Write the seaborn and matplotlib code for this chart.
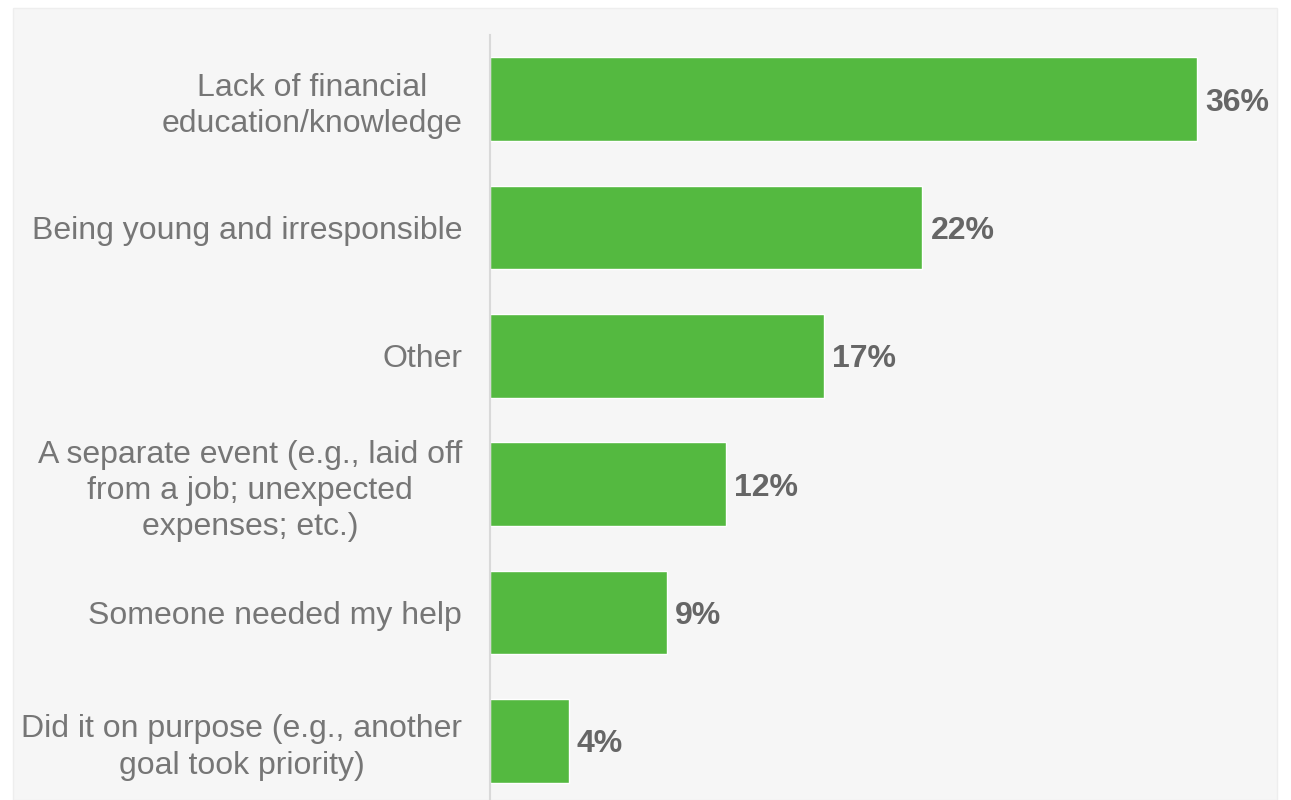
import matplotlib
matplotlib.use("Agg")
import matplotlib.pyplot as plt
import seaborn as sns
import pandas as pd
from matplotlib.patches import Rectangle

# Reasons given, with share of respondents (%)
reasons = [
    "Lack of financial\neducation/knowledge",
    "Being young and irresponsible",
    "Other",
    "A separate event (e.g., laid off\nfrom a job; unexpected\nexpenses; etc.)",
    "Someone needed my help",
    "Did it on purpose (e.g., another\ngoal took priority)",
]
shares = [36, 22, 17, 12, 9, 4]
value_labels = ["36%", "22%", "17%", "12%", "9%", "4%"]

df = pd.DataFrame({"reason": reasons, "share": shares})

sns.set_theme(style="white")
plt.rcParams["font.family"] = ["Liberation Sans", "DejaVu Sans"]

W, H = 1291, 800
fig = plt.figure(figsize=(W / 100, H / 100), dpi=100)
fig.patch.set_facecolor("white")

# light panel behind the chart
fig.patches.append(Rectangle((13 / W, 0), (1277 - 13) / W, (H - 8) / H,
                             transform=fig.transFigure, facecolor="#f6f6f6",
                             edgecolor="#eeeeee", linewidth=1, zorder=-10))

ax = fig.add_axes([490 / W, -5 / H, (1277 - 490) / W, (805 - 35) / H])
ax.set_zorder(5)
ax.set_facecolor("none")

sns.barplot(data=df, x="share", y="reason", orient="h", color="#54b940",
            saturation=1, width=0.65, ax=ax)

ax.set_xlim(0, 40.07)
ax.set_ylim(5.5, -0.5)
ax.set_xlabel("")
ax.set_ylabel("")
ax.set_xticks([])

for spine in ["top", "right", "bottom"]:
    ax.spines[spine].set_visible(False)
ax.spines["left"].set_color("#d9d9d9")
ax.spines["left"].set_linewidth(1.5)

ax.tick_params(axis="y", length=0, pad=20)
for lbl in ax.get_yticklabels():
    lbl.set_fontsize(23)
    lbl.set_color("#767676")
    lbl.set_multialignment("center")
    lbl.set_linespacing(1.27)

for i, (v, t) in enumerate(zip(shares, value_labels)):
    ax.annotate(t, xy=(v, i), xytext=(6, -2.5), textcoords="offset points",
                ha="left", va="center", fontsize=23, fontweight="bold",
                color="#666666")

fig.savefig("out.png", dpi=100, facecolor=fig.get_facecolor())
